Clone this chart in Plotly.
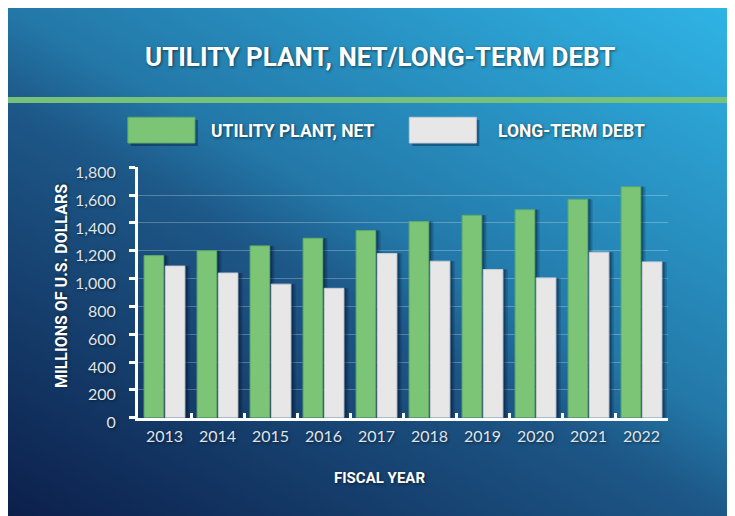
import plotly.graph_objects as go

W, H = 735, 516
PAGE_OFFSET = 8

YEARS = ["2013", "2014", "2015", "2016", "2017", "2018", "2019", "2020", "2021", "2022"]
UTILITY_PLANT = [1165, 1200, 1235, 1290, 1345, 1410, 1455, 1495, 1570, 1660]
LONG_TERM_DEBT = [1090, 1040, 960, 930, 1180, 1125, 1065, 1005, 1190, 1120]
Y_TICKS = [0, 200, 400, 600, 800, 1000, 1200, 1400, 1600, 1800]

GREEN = "#7cc576"
GREEN_EDGE = "#5fae6a"
GREY = "#e7e7e7"
GREY_EDGE = "#c9ced6"
WHITE = "#ffffff"
TICK_INK = "#dfe4ec"
SHADOW = "1px 1px 3px rgba(0,0,0,0.55)"
HEAD = "Roboto, Liberation Sans, sans-serif"
BODY = "Lato, Open Sans, sans-serif"


def px(x):
    return (x - PAGE_OFFSET) / W


def py(y):
    return (H - (y - PAGE_OFFSET)) / H


fig = go.Figure()

# background gradient (decoration only)
fig.add_trace(go.Heatmap(
    x=[0, 1], y=[0, 1], z=[[0, 0.45], [0.55, 1]],
    zsmooth="best", showscale=False, hoverinfo="skip",
    colorscale=[[0, "#0c1e4a"], [0.45, "#1d5888"], [0.55, "#2378a8"], [1, "#2fb5e6"]],
    xaxis="x", yaxis="y",
))

BW = 0.37
OFF_G, OFF_D = -0.385, 0.015

# soft drop shadows behind the bars
for dx, a in [(0.09, 0.2), (0.05, 0.32)]:
    for vals, off in [(UTILITY_PLANT, OFF_G), (LONG_TERM_DEBT, OFF_D)]:
        fig.add_trace(go.Bar(
            x=YEARS, y=vals, width=BW, offset=off + dx,
            marker=dict(color=f"rgba(0,10,35,{a})", line=dict(width=0)),
            hoverinfo="skip", showlegend=False, xaxis="x2", yaxis="y2",
        ))

fig.add_trace(go.Bar(
    x=YEARS, y=UTILITY_PLANT, width=BW, offset=OFF_G, name="UTILITY PLANT, NET",
    marker=dict(color=GREEN, line=dict(color=GREEN_EDGE, width=1)),
    showlegend=False, xaxis="x2", yaxis="y2",
))
fig.add_trace(go.Bar(
    x=YEARS, y=LONG_TERM_DEBT, width=BW, offset=OFF_D, name="LONG-TERM DEBT",
    marker=dict(color=GREY, line=dict(color=GREY_EDGE, width=1)),
    showlegend=False, xaxis="x2", yaxis="y2",
))

XD = [px(138), px(668)]
YD = [py(417.7), py(167.3)]

fig.update_layout(
    template="none",
    width=W, height=H,
    margin=dict(l=0, r=0, t=0, b=0, pad=0, autoexpand=False),
    paper_bgcolor=WHITE, plot_bgcolor="rgba(0,0,0,0)",
    barmode="overlay", showlegend=False,
    xaxis=dict(domain=[0, 1], range=[0, 1], visible=False, fixedrange=True),
    yaxis=dict(domain=[0, 1], range=[0, 1], visible=False, fixedrange=True),
    xaxis2=dict(
        domain=XD, anchor="y2", type="category", range=[-0.5, 9.5],
        showline=True, linecolor=WHITE, linewidth=3,
        ticks="inside", tickson="boundaries", ticklen=5, tickwidth=3, tickcolor=WHITE,
        showgrid=False, zeroline=False,
        tickfont=dict(family=BODY, size=16, color=TICK_INK, shadow=SHADOW),
        ticklabelstandoff=2,
    ),
    yaxis2=dict(
        domain=YD, anchor="x2", range=[0, 1800],
        tickvals=Y_TICKS, tickformat=",",
        showline=True, linecolor=WHITE, linewidth=3,
        ticks="outside", ticklen=6, tickwidth=3, tickcolor=WHITE,
        showgrid=True, gridcolor="rgba(255,255,255,0.26)", gridwidth=1,
        zeroline=False,
        tickfont=dict(family=BODY, size=16, color=TICK_INK, shadow=SHADOW),
        ticklabelstandoff=10, ticklabelshift=5,
    ),
    yaxis3=dict(
        domain=YD, anchor="x2", overlaying="y2", range=[0, 1800],
        tickvals=Y_TICKS, showticklabels=False,
        ticks="inside", ticklen=7, tickwidth=3, tickcolor=WHITE,
        showgrid=False, zeroline=False, showline=False,
    ),
)

shapes = [
    # green rule under the title band
    dict(type="rect", xref="paper", yref="paper", x0=0, x1=1, y0=py(103), y1=py(97),
         fillcolor="#76c27a", line=dict(width=0), layer="above"),
]
for x0, col, edge in [(127.9, GREEN, GREEN_EDGE), (409.3, GREY, GREY_EDGE)]:
    shapes.append(dict(type="rect", xref="paper", yref="paper",
                       x0=px(x0 + 3), x1=px(x0 + 70), y0=py(146), y1=py(120),
                       fillcolor="rgba(0,10,35,0.35)", line=dict(width=0), layer="above"))
    shapes.append(dict(type="rect", xref="paper", yref="paper",
                       x0=px(x0), x1=px(x0 + 67), y0=py(143), y1=py(117.3),
                       fillcolor=col, line=dict(color=edge, width=1), layer="above"))
fig.update_layout(shapes=shapes)

annotations = [
    dict(text="UTILITY PLANT, NET/LONG-TERM DEBT", x=px(380), y=py(57),
         font=dict(family=HEAD, size=26, color=WHITE, weight="bold", shadow=SHADOW)),
    dict(text="UTILITY PLANT, NET", x=px(209), y=py(131), xanchor="left",
         font=dict(family=HEAD, size=17.5, color=WHITE, weight="bold", shadow=SHADOW)),
    dict(text="LONG-TERM DEBT", x=px(495.5), y=py(131), xanchor="left",
         font=dict(family=HEAD, size=17.5, color=WHITE, weight="bold", shadow=SHADOW)),
    dict(text="MILLIONS OF U.S. DOLLARS", x=px(61), y=py(286), textangle=-90,
         font=dict(family=HEAD, size=16, color=WHITE, weight="bold", shadow=SHADOW)),
    dict(text="FISCAL YEAR", x=px(379), y=py(478),
         font=dict(family=HEAD, size=15, color=WHITE, weight="bold", shadow=SHADOW)),
]
for a in annotations:
    a.update(xref="paper", yref="paper", showarrow=False)
    a.setdefault("xanchor", "center")
    a.setdefault("yanchor", "middle")
fig.update_layout(annotations=annotations)

fig.write_html("out.html")
